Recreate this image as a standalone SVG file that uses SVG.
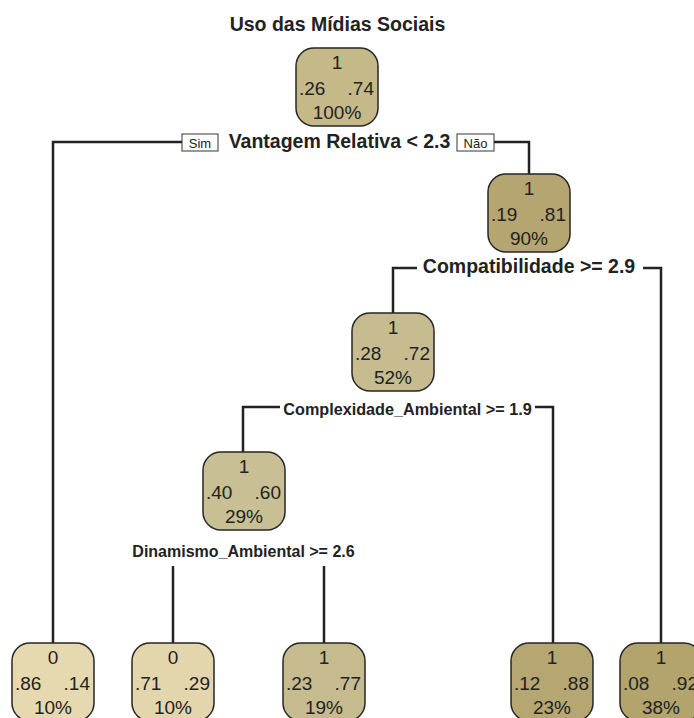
<svg xmlns="http://www.w3.org/2000/svg" width="694" height="718" viewBox="0 0 694 718">
<style>
.box{stroke:#262626;stroke-width:1.5}
.t{font-family:"Liberation Sans",Arial,sans-serif;font-size:19px;fill:#222}
.c{text-anchor:middle}
.s{text-anchor:start}
.e{text-anchor:end}
.lbl{font-family:"Liberation Sans",Arial,sans-serif;font-weight:bold;fill:#222;text-anchor:middle}
.yn{font-family:"Liberation Sans",Arial,sans-serif;font-size:13px;fill:#222;text-anchor:middle}
.ynb{fill:#fff;stroke:#333;stroke-width:1}
.con{fill:none;stroke:#222;stroke-width:2.5}
</style>
<rect width="694" height="718" fill="#fff"/>
<text class="lbl" x="337.5" y="31" font-size="19.5">Uso das Mídias Sociais</text>
<g id="connectors">
<path class="con" d="M182,142 H53 V643"/>
<path class="con" d="M494,142 H529 V174"/>
<path class="con" d="M417,268 H393 V313"/>
<path class="con" d="M643,268 H661 V643"/>
<path class="con" d="M280,407 H243 V452"/>
<path class="con" d="M535,407 H553 V643"/>
<path class="con" d="M173,566 V643"/>
<path class="con" d="M324,566 V643"/>
</g>
<g id="split1">
<rect class="ynb" x="182" y="134" width="36" height="17"/>
<text class="yn" x="200" y="147.5">Sim</text>
<text class="lbl" x="339.5" y="148" font-size="19.5">Vantagem Relativa &lt; 2.3</text>
<rect class="ynb" x="457" y="134" width="37" height="17"/>
<text class="yn" x="475.5" y="147.5">Não</text>
</g>
<g id="split2"><text class="lbl" x="529" y="273" font-size="19.5">Compatibilidade &gt;= 2.9</text></g>
<g id="split3"><text class="lbl" x="407.5" y="415" font-size="16.2">Complexidade_Ambiental &gt;= 1.9</text></g>
<g id="split4"><text class="lbl" x="243.5" y="557" font-size="16">Dinamismo_Ambiental &gt;= 2.6</text></g>
<g id="node1">
<rect class="box" x="296" y="48" width="82" height="78" rx="18" fill="#c5b98a"/>
<text class="t c" x="337" y="69">1</text><text class="t s" x="299" y="95">.26</text><text class="t e" x="374" y="95">.74</text><text class="t c" x="337" y="119">100%</text>
</g>
<g id="node2">
<rect class="box" x="488" y="174" width="82" height="78" rx="18" fill="#b5a671"/>
<text class="t c" x="529" y="195">1</text><text class="t s" x="491" y="221">.19</text><text class="t e" x="566" y="221">.81</text><text class="t c" x="529" y="245">90%</text>
</g>
<g id="node3">
<rect class="box" x="352" y="313" width="82" height="78" rx="18" fill="#c7bc8f"/>
<text class="t c" x="393" y="334">1</text><text class="t s" x="355" y="360">.28</text><text class="t e" x="430" y="360">.72</text><text class="t c" x="393" y="384">52%</text>
</g>
<g id="node4">
<rect class="box" x="203" y="452" width="82" height="78" rx="18" fill="#c9bf95"/>
<text class="t c" x="244" y="473">1</text><text class="t s" x="206" y="499">.40</text><text class="t e" x="281" y="499">.60</text><text class="t c" x="244" y="523">29%</text>
</g>
<g id="leaf1">
<rect class="box" x="12" y="643" width="82" height="78" rx="18" fill="#e6d9b0"/>
<text class="t c" x="53" y="664">0</text><text class="t s" x="15" y="690">.86</text><text class="t e" x="90" y="690">.14</text><text class="t c" x="53" y="714">10%</text>
</g>
<g id="leaf2">
<rect class="box" x="132" y="643" width="82" height="78" rx="18" fill="#e3d6ad"/>
<text class="t c" x="173" y="664">0</text><text class="t s" x="135" y="690">.71</text><text class="t e" x="210" y="690">.29</text><text class="t c" x="173" y="714">10%</text>
</g>
<g id="leaf3">
<rect class="box" x="283" y="643" width="82" height="78" rx="18" fill="#c6ba8f"/>
<text class="t c" x="324" y="664">1</text><text class="t s" x="286" y="690">.23</text><text class="t e" x="361" y="690">.77</text><text class="t c" x="324" y="714">19%</text>
</g>
<g id="leaf4">
<rect class="box" x="511" y="643" width="82" height="78" rx="18" fill="#b6a672"/>
<text class="t c" x="552" y="664">1</text><text class="t s" x="514" y="690">.12</text><text class="t e" x="589" y="690">.88</text><text class="t c" x="552" y="714">23%</text>
</g>
<g id="leaf5">
<rect class="box" x="620" y="643" width="82" height="78" rx="18" fill="#b3a36c"/>
<text class="t c" x="661" y="664">1</text><text class="t s" x="623" y="690">.08</text><text class="t e" x="698" y="690">.92</text><text class="t c" x="661" y="714">38%</text>
</g>
</svg>
